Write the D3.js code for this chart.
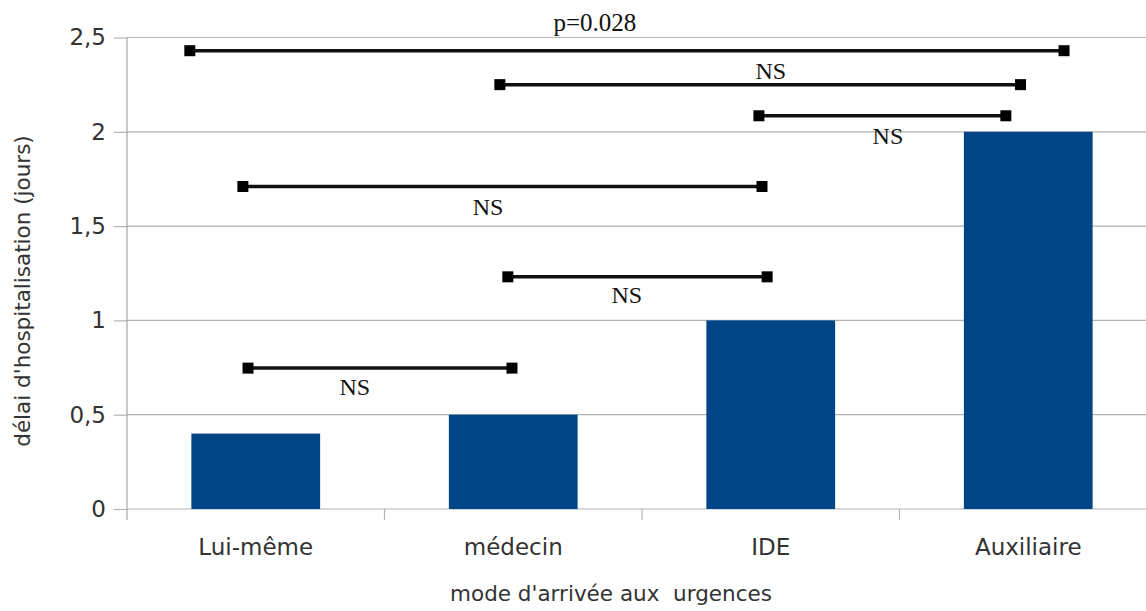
<!DOCTYPE html>
<html><head><meta charset="utf-8">
<script src="https://cdn.jsdelivr.net/npm/d3@7"></script>
<style>
html,body{margin:0;padding:0;background:#fff;}
svg{display:block;}
</style></head>
<body>
<svg id="chart" width="1146" height="611"></svg>
<script>
// ---- data ----
const categories = ["Lui-même", "médecin", "IDE", "Auxiliaire"];
const values = [0.4, 0.5, 1.0, 2.0];
const yTicks = [0, 0.5, 1, 1.5, 2, 2.5];
// significance brackets: start/end as fractional category index, level in y units
const bracketStart = [-0.256, 0.948, 1.954, -0.050, 0.979, -0.030];
const bracketEnd   = [3.139, 2.970, 2.913, 1.966, 1.986, 0.995];
const bracketLevel = [2.43, 2.25, 2.085, 1.71, 1.231, 0.747];
const bracketLabel = ["p=0.028", "NS", "NS", "NS", "NS", "NS"];
const labelPos     = [1.317, 2.0, 2.455, 0.902, 1.441, 0.385];
const labelLevel   = [2.534, 2.28, 1.935, 1.559, 1.092, 0.604];
const yTitle = "délai d'hospitalisation (jours)";
const xTitle = "mode d'arrivée aux  urgences";

// ---- layout ----
const mLeft = 127, mRight = 1157, mTop = 37.5, mBottom = 509;
const svg = d3.select("#chart");

const x = d3.scaleBand().domain(categories).range([mLeft, mRight]).paddingInner(0.5).paddingOuter(0.25);
const xc = d3.scaleLinear().domain([0, categories.length - 1])
  .range([x(categories[0]) + x.bandwidth() / 2, x(categories[categories.length - 1]) + x.bandwidth() / 2]);
const y = d3.scaleLinear().domain([0, 2.5]).range([mBottom, mTop]);
const fmt = v => d3.format("~g")(v).replace(".", ",");

// gridlines
svg.append("g").selectAll("line").data(yTicks).join("line")
  .attr("x1", mLeft).attr("x2", 1146)
  .attr("y1", d => y(d)).attr("y2", d => y(d))
  .attr("stroke", "#b3b3b3").attr("stroke-width", 1.2);

// y axis
const yAxis = svg.append("g").attr("transform", `translate(${mLeft},0)`)
  .call(d3.axisLeft(y).tickValues(yTicks).tickFormat(fmt).tickSize(13).tickPadding(8));
yAxis.select(".domain").remove();
yAxis.selectAll(".tick line").attr("stroke", "#b3b3b3").attr("stroke-width", 1.2);
yAxis.selectAll(".tick text").attr("fill", "#333").style("font-family", "DejaVu Sans").style("font-size", "23px");
svg.append("line").attr("x1", mLeft).attr("x2", mLeft).attr("y1", mTop).attr("y2", mBottom + 11)
  .attr("stroke", "#a6a6a6").attr("stroke-width", 1.2);

// x axis category separators
const seps = categories.slice(1).map(c => x(c) - x.step() * x.paddingInner() / 2);
svg.append("g").selectAll("line").data(seps).join("line")
  .attr("x1", d => d).attr("x2", d => d).attr("y1", mBottom).attr("y2", mBottom + 11)
  .attr("stroke", "#b3b3b3").attr("stroke-width", 1.2);

// x labels
const xAxis = svg.append("g").attr("transform", `translate(0,${mBottom})`)
  .call(d3.axisBottom(x).tickSize(0).tickPadding(30));
xAxis.select(".domain").remove();
xAxis.selectAll(".tick text").attr("fill", "#333").style("font-family", "DejaVu Sans").style("font-size", "23px");

// bars
svg.append("g").selectAll("rect").data(values).join("rect")
  .attr("x", (d, i) => x(categories[i])).attr("width", x.bandwidth())
  .attr("y", d => y(d)).attr("height", d => mBottom - y(d))
  .attr("fill", "#004586");

// brackets
const br = svg.append("g");
bracketStart.forEach((s, i) => {
  const yy = y(bracketLevel[i]);
  const x1 = xc(s), x2 = xc(bracketEnd[i]);
  br.append("line").attr("x1", x1).attr("x2", x2).attr("y1", yy).attr("y2", yy)
    .attr("stroke", "#111").attr("stroke-width", 3.5);
  [x1, x2].forEach(px => br.append("rect").attr("x", px - 5.5).attr("y", yy - 5.5)
    .attr("width", 11).attr("height", 11).attr("fill", "#000"));
  br.append("text").attr("x", xc(labelPos[i])).attr("y", y(labelLevel[i]))
    .attr("text-anchor", "middle").attr("fill", "#111")
    .style("font-family", "Liberation Serif").style("font-size", i === 0 ? "25px" : "24px")
    .text(bracketLabel[i]);
});

// axis titles
svg.append("text").attr("transform", "translate(30,291) rotate(-90)")
  .attr("text-anchor", "middle").attr("fill", "#333")
  .style("font-family", "DejaVu Sans").style("font-size", "21.5px").text(yTitle);
svg.append("text").attr("x", 611).attr("y", 601).attr("text-anchor", "middle").attr("fill", "#333")
  .style("font-family", "DejaVu Sans").style("font-size", "21.5px").style("white-space", "pre").text(xTitle);
</script>
</body></html>
